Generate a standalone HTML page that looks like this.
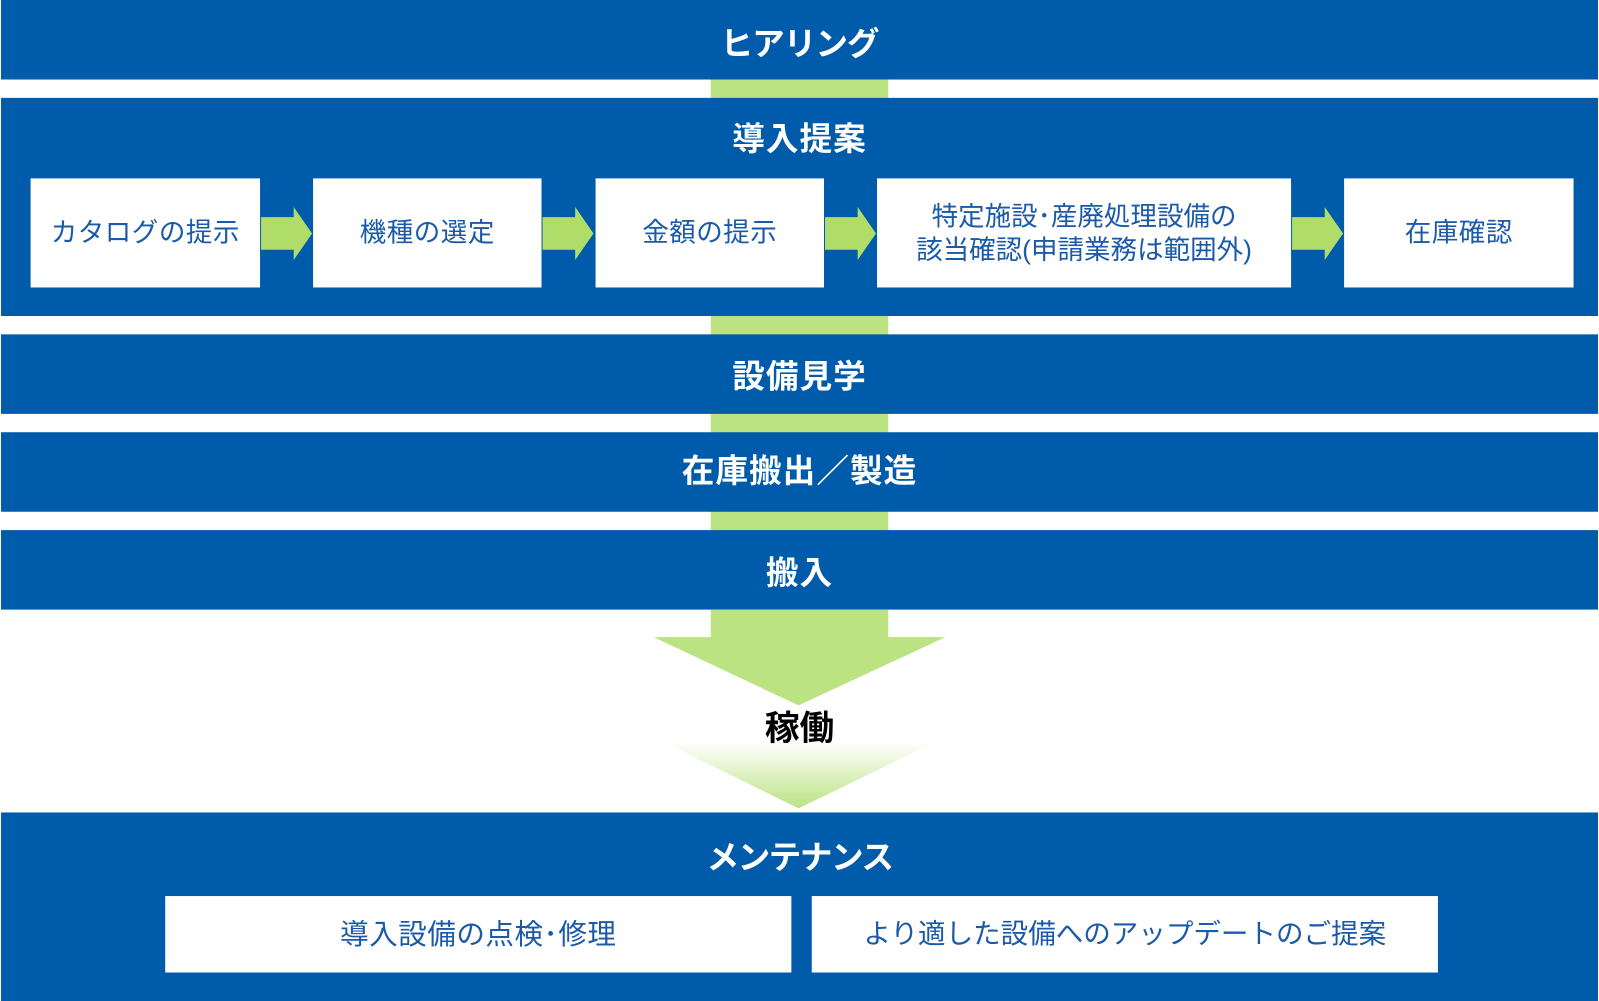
<!DOCTYPE html>
<html><head><meta charset="utf-8"><style>
html,body{margin:0;padding:0;width:1599px;height:1001px;overflow:hidden;background:#fff}
#w{position:absolute;left:0;top:0;width:1568px;height:982px;transform:scale(1.0198,1.0194);transform-origin:0 0;font-family:"Liberation Sans","Noto Sans CJK JP",sans-serif}
.b{position:absolute;left:1px;width:1566px;background:#005bab}
.g{position:absolute;left:697px;width:174px;background:#bbe382}
.t{position:absolute;left:0;width:1568px;text-align:center;color:#fff;font-weight:bold;font-size:32px;line-height:32px;letter-spacing:1px}
.x{position:absolute;background:#fff;color:#1a5aa8;font-size:26px;line-height:33px;display:flex;align-items:center;justify-content:center;text-align:center;letter-spacing:0.5px}
</style></head><body><div id="w">
<div class="g" style="top:70px;height:460px"></div>
<div class="b" style="top:0;height:78px"></div>
<div class="b" style="top:96px;height:214px"></div>
<div class="b" style="top:328px;height:78px"></div>
<div class="b" style="top:424px;height:78px"></div>
<div class="b" style="top:520px;height:78px"></div>
<div class="b" style="top:797px;height:185px"></div>
<div class="t" style="top:27px;letter-spacing:-1px">ヒアリング</div>
<div class="t" style="top:120px">導入提案</div>
<div class="t" style="top:353px">設備見学</div>
<div class="t" style="top:446px">在庫搬出／製造</div>
<div class="t" style="top:546px">搬入</div>
<div class="t" style="top:825px;letter-spacing:-1.5px">メンテナンス</div>
<div class="x" style="left:30px;top:175px;width:225px;height:107px">カタログの提示</div>
<div class="x" style="left:307px;top:175px;width:224px;height:107px">機種の選定</div>
<div class="x" style="left:584px;top:175px;width:224px;height:107px">金額の提示</div>
<div class="x" style="left:860px;top:175px;width:406px;height:107px;letter-spacing:0">特定施設･産廃処理設備の<br>該当確認(申請業務は範囲外)</div>
<div class="x" style="left:1318px;top:175px;width:225px;height:107px">在庫確認</div>
<div class="x" style="left:162px;top:879px;width:614px;height:75px;font-size:28px">導入設備の点検･修理</div>
<div class="x" style="left:796px;top:879px;width:614px;height:75px;font-size:27px;letter-spacing:0">より適した設備へのアップデートのご提案</div>
<svg style="position:absolute;left:0;top:0" width="1568" height="982">
<defs><linearGradient id="gr" x1="0" y1="0" x2="0" y2="1"><stop offset="0" stop-color="#bbe382" stop-opacity="0"/><stop offset="1" stop-color="#bbe382"/></linearGradient></defs>
<g fill="#b0dd6a">
<polygon points="256,213 288,213 288,203 306,229 288,255 288,245 256,245"/>
<polygon points="532,213 564,213 564,203 582,229 564,255 564,245 532,245"/>
<polygon points="809,213 841,213 841,203 859,229 841,255 841,245 809,245"/>
<polygon points="1267,213 1299,213 1299,203 1317,229 1299,255 1299,245 1267,245"/>
</g>
<polygon fill="#bbe382" points="697,598 871,598 871,625 927,625 783,692 641,625 697,625"/>
<polygon fill="url(#gr)" points="651,728 917,728 783,793"/>
</svg>
<div style="position:absolute;left:0;width:1568px;top:697px;text-align:center;font-weight:bold;font-size:34px;line-height:36px;color:#000">稼働</div>
</div></body></html>
